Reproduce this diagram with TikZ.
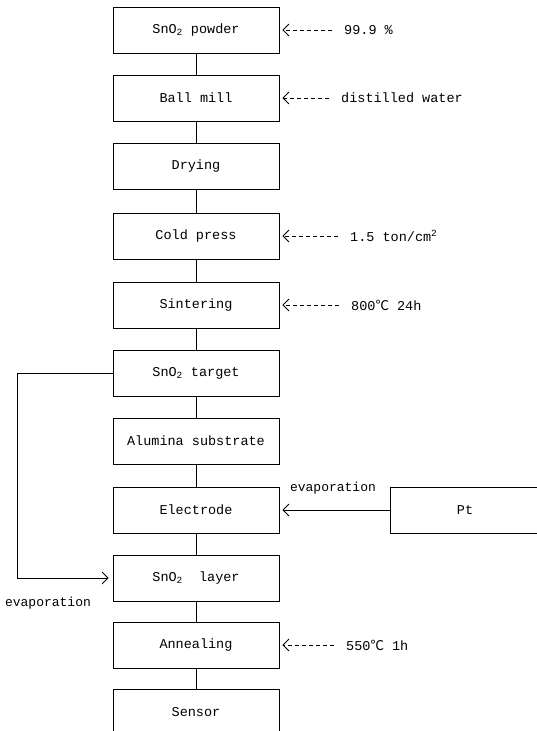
\documentclass[tikz,border=0pt]{standalone}
\usepackage{fontspec}
\setmainfont{Liberation Mono}
\newfontfamily\cjkf{Noto Sans CJK SC}
\usetikzlibrary{arrows.meta}
\newcommand{\degC}{{\cjkf ℃}}
\begin{document}
\begin{tikzpicture}[x=1pt,y=-1pt,
  box/.style={draw,line width=0.8pt,minimum width=166pt,minimum height=46pt,inner sep=0pt,font=\fontsize{13.5}{16}\selectfont},
  conn/.style={line width=0.8pt},
  tip/.style={-{Straight Barb[length=6pt,width=12pt,line width=0.8pt]}},
  note/.style={anchor=west,inner sep=0pt,font=\fontsize{13.5}{16}\selectfont},
  evlabel/.style={inner sep=0pt,font=\fontsize{13}{16}\selectfont},
  dashline/.style={line width=0.8pt,dash pattern=on 4pt off 3pt}]
\useasboundingbox (0,0) rectangle (536,731);
\node[box] (b1) at (196,30) {SnO\textsubscript{2} powder};
\node[box] (b2) at (196,98) {Ball mill};
\node[box] (b3) at (196,166) {Drying};
\node[box] (b4) at (196,236) {Cold press};
\node[box] (b5) at (196,305) {Sintering};
\node[box] (b6) at (196,373) {SnO\textsubscript{2} target};
\node[box] (b7) at (196,441) {Alumina substrate};
\node[box] (b8) at (196,510) {Electrode};
\node[box] (b9) at (196,578) {SnO\textsubscript{2}\ \ layer};
\node[box] (b10) at (196,645) {Annealing};
\node[box] (b11) at (196,712) {Sensor};
\node[box,minimum width=150pt] (pt) at (465,510) {Pt};
\foreach \a/\b in {b1/b2,b2/b3,b3/b4,b4/b5,b5/b6,b6/b7,b7/b8,b8/b9,b9/b10,b10/b11}
  \draw[conn] (\a) -- (\b);
% annotations
\node[note] (n1) at (344,30) {99.9 \%};
\node[note] (n2) at (341,98) {distilled water};
\node[note] (n4) at (350,236) {1.5 ton/cm\textsuperscript{2}};
\node[note] (n5) at (351,305) {800\degC{} 24h};
\node[note] (n10) at (346,645) {550\degC{} 1h};
\foreach \n/\b in {n1/b1,n2/b2,n4/b4,n5/b5,n10/b10}
  \draw[dashline,tip,shorten >=3pt] ([xshift=-12pt]\n.west) -- (\b.east);
% Pt evaporation
\draw[conn,tip,shorten >=3pt] (pt.west) -- (b8.east);
\node[evlabel] (ev1) at (333,488) {evaporation};
% left loop
\coordinate (l1) at (17,373);
\coordinate (l2) at (17,578);
\draw[conn,tip,shorten >=4pt] (b6.west) -- (l1) -- (l2) -- (b9.west);
\node[evlabel] (ev2) at (48,603) {evaporation};
\end{tikzpicture}
\end{document}
